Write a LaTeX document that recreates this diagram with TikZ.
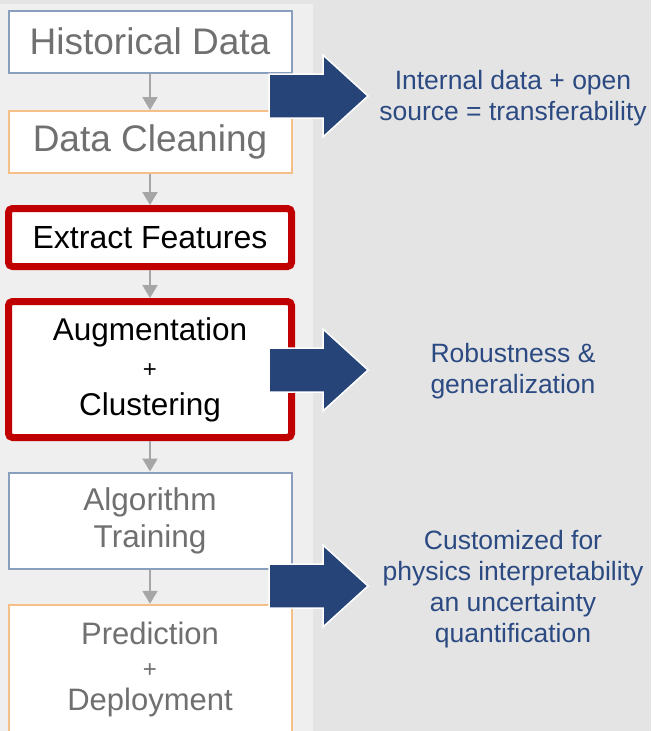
\documentclass[tikz,border=0pt]{standalone}
\usepackage{fontspec}
\setmainfont{Liberation Sans}
\usetikzlibrary{arrows.meta}

\definecolor{panelback}{HTML}{E4E4E4}
\definecolor{panelleft}{HTML}{EFEFEF}
\definecolor{stageblue}{HTML}{8A9EBE}
\definecolor{stageorange}{HTML}{F4C088}
\definecolor{keyred}{HTML}{C00000}
\definecolor{stagegray}{HTML}{707070}
\definecolor{flowgray}{HTML}{A6A6A6}
\definecolor{arrowblue}{HTML}{264478}
\definecolor{gainblue}{HTML}{2C4A82}

\begin{document}
\begin{tikzpicture}%
	[x=1pt, y=-1pt,
	stage/.style={fill=white, inner sep=0pt, align=center, minimum width=283pt},
	plainstage/.style={stage, line width=2pt, text=stagegray},
	keystage/.style={stage, draw=keyred, line width=7pt, rounded corners=4pt, text=black},
	flow/.style={draw=flowgray, line width=2pt, -{Triangle[width=15pt,length=13pt]}},
	blockarrow/.style={fill=arrowblue, draw=white, line width=1.5pt},
	gain/.style={text=gainblue, align=center, font=\fontsize{26.5}{31}\selectfont}]
%
%% Frame and backgrounds
\useasboundingbox (0,0) rectangle (651,731);
\clip (0,0) rectangle (651,731);
\fill[panelback] (0,0) rectangle (651,731);
\fill[panelleft] (0,4) rectangle (313,731);
%
%% Stages of the workflow
\node[plainstage, draw=stageblue, minimum height=62pt, font=\fontsize{37}{42}\selectfont]
	(historical) at (150,41.5) {Historical Data};
\node[plainstage, draw=stageorange, minimum height=62pt, font=\fontsize{37}{42}\selectfont]
	(cleaning) at (150,142) {Data Cleaning};
\node[keystage, minimum height=58pt, font=\fontsize{32}{36}\selectfont]
	(features) at (150,237.5) {Extract Features};
\node[keystage, minimum height=136pt, font=\fontsize{31.5}{37.5}\selectfont]
	(augment) at (150,369.5) {Augmentation\\{\fontsize{24}{24}\selectfont +}\\Clustering};
\node[plainstage, draw=stageblue, minimum height=96pt, font=\fontsize{31.5}{37}\selectfont]
	(training) at (150,520.5) {Algorithm\\Training};
\node[plainstage, draw=stageorange, minimum height=128.5pt, font=\fontsize{31}{33}\selectfont]
	(deploy) at (150,669) {Prediction\\{\fontsize{24}{24}\selectfont +}\\Deployment};
%
%% Flow between the stages
\draw[flow] (historical) -- (cleaning);
\draw[flow] (cleaning) -- (features);
\draw[flow] (features) -- (augment);
\draw[flow] (augment) -- (training);
\draw[flow] (training) -- (deploy);
%
%% Block arrows
\foreach \y in {96, 370, 586}
	\filldraw[blockarrow] (269,\y-22) -- (323,\y-22) -- (323,\y-41) -- (368,\y)
		-- (323,\y+41) -- (323,\y+22) -- (269,\y+22) -- cycle;
%
%% What each step brings
\node[gain] (transfer) at (513,98) {Internal data + open\\source = transferability};
\node[gain] (robust) at (513,371) {Robustness \&\\generalization};
\node[gain] (physics) at (513,589) {Customized for\\physics interpretability\\an uncertainty\\quantification};
%
\end{tikzpicture}
\end{document}
